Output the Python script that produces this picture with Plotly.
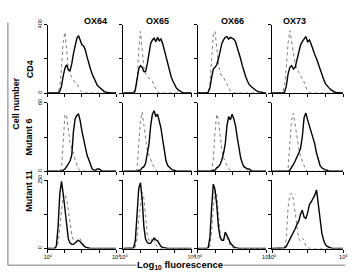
import plotly.graph_objects as go

# ---------------- data ----------------
BINS = [0.0, 0.1, 0.2, 0.3, 0.4, 0.5, 0.6, 0.7, 0.8, 0.9, 1.0, 1.1, 1.2, 1.3, 1.4, 1.5,
        1.6, 1.7, 1.8, 1.9, 2.0, 2.1, 2.2, 2.3, 2.4, 2.5, 2.6, 2.7, 2.8, 2.9, 3.0, 3.1,
        3.2, 3.3, 3.4, 3.5, 3.6, 3.7, 3.8, 3.9, 4.0]  # log10 fluorescence

ANTIBODIES = ["OX64", "OX65", "OX66", "OX73"]
CELL_LINES = ["CD4", "Mutant 6", "Mutant 11"]
Y_MAX = [400, 60, 250]
Y_TICK_TEXT = [["0", "", "400"], ["0", "", "60"], ["0", "", "250"]]
X_TICK_TEXT = ["10<sup>0</sup>", "", "", "", "10<sup>4</sup>"]

# values per bin starting at log10 = 0.0 (remaining bins are 0)
CD4_OX64_CTRL = [0, 0, 0, 0, 0, 0, 5, 40, 150, 300, 355, 250, 150, 110, 95, 80, 60, 55, 30, 15, 5]
CD4_OX64_STAIN = [0, 0, 0, 0, 0, 0, 0, 10, 40, 100, 145, 165, 135, 130, 170, 230, 280, 320, 335, 300,
                  280, 275, 250, 210, 170, 140, 110, 85, 65, 45, 35, 25, 15, 10, 5, 2]
CD4_OX65_CTRL = [0, 0, 0, 0, 0, 0, 0, 5, 60, 250, 360, 250, 150, 110, 95, 85, 80, 70, 45, 20, 5]
CD4_OX65_STAIN = [0, 0, 0, 0, 0, 0, 0, 20, 80, 140, 160, 150, 125, 125, 170, 240, 290, 310, 320, 300,
                  325, 305, 315, 290, 250, 200, 160, 130, 95, 70, 45, 30, 20, 12, 6, 2]
CD4_OX66_CTRL = [0, 0, 0, 0, 0, 0, 5, 50, 200, 340, 360, 260, 170, 120, 100, 90, 70, 50, 30, 12, 3]
CD4_OX66_STAIN = [0, 0, 0, 0, 0, 0, 5, 30, 90, 140, 150, 165, 200, 250, 290, 310, 325, 330, 315, 325,
                  320, 315, 300, 270, 235, 200, 160, 120, 95, 70, 50, 40, 30, 22, 15, 10, 7, 5, 3, 1]
CD4_OX73_CTRL = [0, 0, 0, 0, 0, 0, 5, 40, 150, 290, 365, 300, 220, 170, 140, 120, 100, 80, 65, 35, 12, 2]
CD4_OX73_STAIN = [0, 0, 0, 0, 0, 0, 0, 5, 40, 110, 150, 160, 140, 150, 200, 250, 280, 300, 315, 330,
                  300, 310, 285, 250, 225, 200, 170, 130, 110, 80, 55, 40, 30, 20, 12, 7, 3, 1]

M6_OX64_CTRL = [0, 0, 0, 0, 0, 0, 0, 0, 2, 25, 50, 48, 35, 25, 20, 16, 10, 5, 2]
M6_OX64_STAIN = [0, 0, 0, 0, 0, 0, 0, 0, 0, 1, 2, 4, 6, 9, 14, 35, 46, 49, 50, 44,
                 35, 28, 20, 14, 10, 5, 2, 1, 1, 2, 2, 1]
M6_OX65_CTRL = [0, 0, 0, 0, 0, 0, 0, 0, 2, 20, 45, 52, 40, 28, 18, 14, 10, 7, 3, 1]
M6_OX65_STAIN = [0, 0, 0, 0, 0, 0, 0, 0, 0, 1, 1, 3, 4, 7, 14, 24, 40, 50, 53, 48,
                 50, 44, 38, 28, 18, 9, 5, 3, 2, 1, 1]
M6_OX66_CTRL = [0, 0, 0, 0, 0, 0, 0, 0, 1, 10, 35, 50, 45, 30, 18, 12, 8, 5, 2, 1]
M6_OX66_STAIN = [0, 0, 0, 0, 0, 0, 0, 0, 0, 1, 1, 3, 4, 6, 10, 16, 24, 40, 48, 45,
                 50, 46, 40, 30, 20, 12, 7, 4, 3, 2, 2, 1]
M6_OX73_CTRL = [0, 0, 0, 0, 0, 0, 0, 0, 0, 2, 20, 45, 51, 40, 28, 20, 13, 9, 4, 1]
M6_OX73_STAIN = [0, 0, 0, 0, 0, 0, 0, 0, 0, 0, 1, 3, 6, 9, 12, 16, 20, 30, 47, 51,
                 45, 40, 34, 29, 24, 16, 10, 5, 3, 2, 1, 1]

M11_OX64_CTRL = [0, 0, 0, 0, 0, 2, 20, 80, 160, 195, 200, 180, 140, 95, 50, 30, 25, 30, 38, 35,
                 25, 10, 3]
M11_OX64_STAIN = [0, 0, 0, 0, 0, 10, 80, 200, 245, 200, 140, 70, 35, 20, 15, 15, 20, 28, 30, 25,
                  15, 10, 5, 3, 1]
M11_OX65_CTRL = [0, 0, 0, 0, 0, 0, 0, 5, 40, 110, 170, 205, 185, 100, 50, 30, 22, 40, 35, 15, 5, 1]
M11_OX65_STAIN = [0, 0, 0, 0, 0, 0, 2, 30, 120, 220, 240, 180, 80, 35, 22, 18, 20, 32, 38, 32,
                  28, 18, 8, 4, 2, 1]
M11_OX66_CTRL = [0, 0, 0, 0, 0, 0, 0, 10, 60, 150, 210, 200, 110, 50, 28, 30, 55, 40, 22, 10, 3]
M11_OX66_STAIN = [0, 0, 0, 0, 0, 0, 3, 40, 150, 235, 215, 160, 80, 40, 30, 30, 60, 50, 35, 20,
                  12, 6, 3, 1]
M11_OX73_CTRL = [0, 0, 0, 0, 0, 0, 0, 3, 40, 150, 195, 202, 180, 130, 80, 35, 28, 38, 30, 8, 2]
M11_OX73_STAIN = [0, 0, 0, 0, 0, 0, 0, 2, 8, 20, 32, 45, 60, 72, 88, 100, 125, 140, 115, 110,
                  130, 160, 170, 180, 195, 214, 160, 100, 56, 30, 14, 8, 4, 2, 1]

STAINED = [[CD4_OX64_STAIN, CD4_OX65_STAIN, CD4_OX66_STAIN, CD4_OX73_STAIN],
           [M6_OX64_STAIN, M6_OX65_STAIN, M6_OX66_STAIN, M6_OX73_STAIN],
           [M11_OX64_STAIN, M11_OX65_STAIN, M11_OX66_STAIN, M11_OX73_STAIN]]
CONTROL = [[CD4_OX64_CTRL, CD4_OX65_CTRL, CD4_OX66_CTRL, CD4_OX73_CTRL],
           [M6_OX64_CTRL, M6_OX65_CTRL, M6_OX66_CTRL, M6_OX73_CTRL],
           [M11_OX64_CTRL, M11_OX65_CTRL, M11_OX66_CTRL, M11_OX73_CTRL]]

# ---------------- layout ----------------
W, H = 356, 273
COL_PX = [(45, 115), (122.5, 192.5), (199, 269), (275, 348)]
ROW_PX = [(20, 90), (100, 170), (179, 249)]
FONT = "Liberation Sans, Arial, sans-serif"


def px_x(x):
    return x / W


def px_y(y):
    return 1 - y / H


def full(vals):
    return list(vals) + [0] * (len(BINS) - len(vals))


fig = go.Figure()
layout = dict(width=W, height=H, margin=dict(l=0, r=0, t=0, b=0),
              paper_bgcolor="white", plot_bgcolor="white", showlegend=False,
              font=dict(family=FONT, color="black"))

n = 0
for r in range(3):
    for c in range(4):
        n += 1
        xa = "x" if n == 1 else f"x{n}"
        ya = "y" if n == 1 else f"y{n}"
        fig.add_trace(go.Scatter(x=BINS, y=full(CONTROL[r][c]), mode="lines",
                                 line=dict(color="#7a7a7a", width=1, dash="dot"),
                                 xaxis=xa, yaxis=ya, hoverinfo="skip"))
        fig.add_trace(go.Scatter(x=BINS, y=full(STAINED[r][c]), mode="lines",
                                 line=dict(color="black", width=1.4),
                                 xaxis=xa, yaxis=ya, hoverinfo="skip"))
        x0, x1 = COL_PX[c]
        y0, y1 = ROW_PX[r]
        kx = "xaxis" if n == 1 else f"xaxis{n}"
        ky = "yaxis" if n == 1 else f"yaxis{n}"
        layout[kx] = dict(domain=[px_x(x0), px_x(x1)], range=[0, 4], anchor=ya,
                          showgrid=False, zeroline=False, showline=True,
                          linecolor="black", linewidth=1, ticks="outside",
                          ticklen=3, tickwidth=1, tickcolor="black",
                          tickvals=[0, 1, 2, 3, 4],
                          ticktext=X_TICK_TEXT if r == 2 else [""] * 5,
                          showticklabels=(r == 2), tickangle=0,
                          tickfont=dict(size=5.5, family=FONT))
        ym = Y_MAX[r]
        layout[ky] = dict(domain=[px_y(y1), px_y(y0)], range=[0, ym], anchor=xa,
                          showgrid=False, zeroline=False, showline=True,
                          linecolor="black", linewidth=1, ticks="outside",
                          ticklen=3, tickwidth=1, tickcolor="black",
                          tickvals=[0, ym / 2, ym], ticktext=Y_TICK_TEXT[r],
                          showticklabels=(c == 0), tickangle=-90,
                          tickfont=dict(size=5.5, family=FONT))

annotations = []
for c, name in enumerate(ANTIBODIES):
    x0, x1 = COL_PX[c]
    annotations.append(dict(text=f"<b>{name}</b>", x=px_x((x0 + x1) / 2), y=px_y(9),
                            xref="paper", yref="paper", showarrow=False,
                            font=dict(size=9, family=FONT)))
for r, name in enumerate(CELL_LINES):
    y0, y1 = ROW_PX[r]
    annotations.append(dict(text=f"<b>{name}</b>", x=px_x(19), y=px_y((y0 + y1) / 2),
                            xref="paper", yref="paper", showarrow=False, textangle=-90,
                            font=dict(size=9, family=FONT)))
annotations.append(dict(text="<b>Cell number</b>", x=px_x(5), y=px_y(100),
                        xref="paper", yref="paper", showarrow=False, textangle=-90,
                        bgcolor="white", borderpad=1, font=dict(size=9, family=FONT)))
annotations.append(dict(text="<b>Log<sub>10</sub> fluorescence</b>", x=px_x(181),
                        y=px_y(259), yanchor="top",
                        xref="paper", yref="paper", showarrow=False,
                        bgcolor="white", borderpad=0, font=dict(size=9.5, family=FONT)))
layout["annotations"] = annotations

layout["shapes"] = [
    dict(type="line", xref="paper", yref="paper", x0=px_x(4), x1=px_x(4),
         y0=px_y(18), y1=px_y(266), line=dict(color="#555", width=0.8), layer="below"),
    dict(type="line", xref="paper", yref="paper", x0=px_x(4), x1=px_x(350),
         y0=px_y(266), y1=px_y(266), line=dict(color="#555", width=0.8), layer="below"),
]

fig.update_layout(**layout)
fig.write_html("out.html")
